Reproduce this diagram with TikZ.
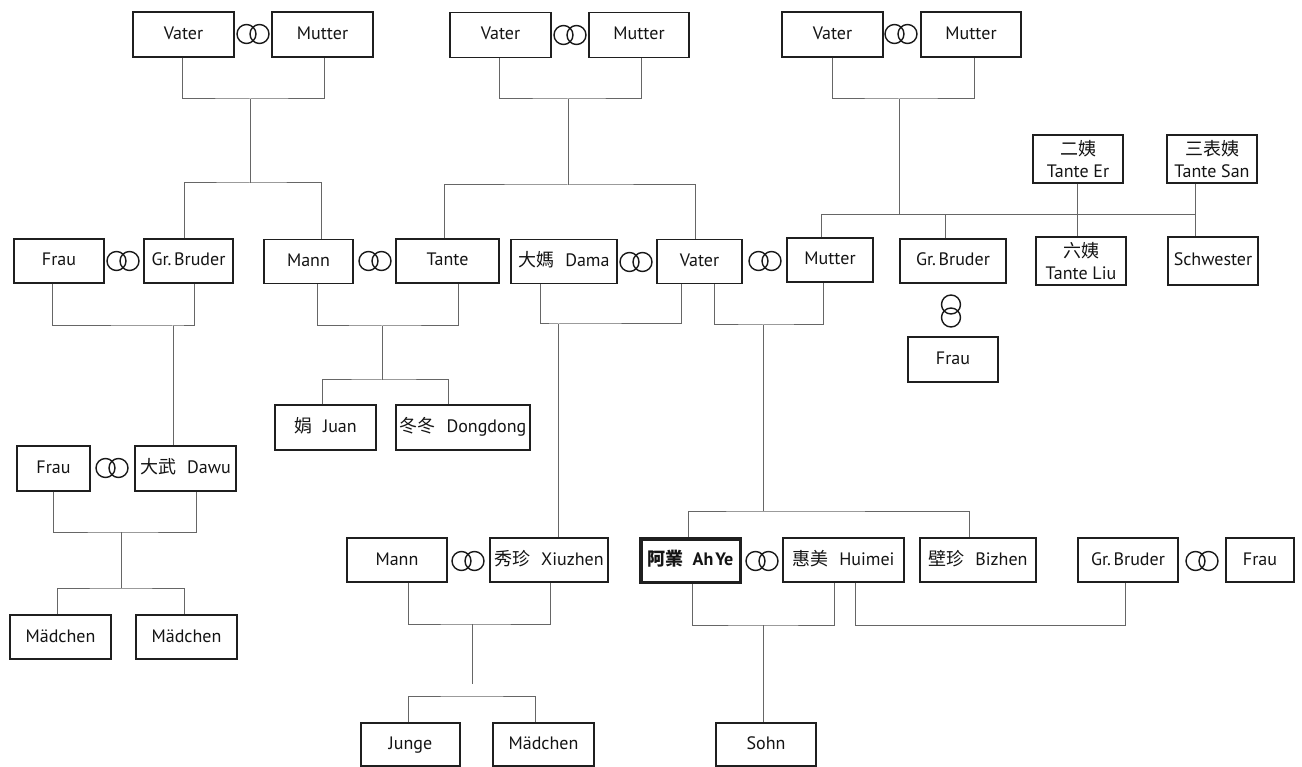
\documentclass[tikz,border=0pt]{standalone}
\usepackage{fontspec}
\setmainfont{PT Sans}
\newfontfamily\cjk{Noto Sans CJK TC}
\newcommand{\ringH}[2]{\draw[ring] (#1-6.5,#2) circle[radius=9.5pt] (#1+6.5,#2) circle[radius=9.5pt];}
\newcommand{\ringV}[2]{\draw[ring] (#1,#2-6.5) circle[radius=9.5pt] (#1,#2+6.5) circle[radius=9.5pt];}
\newcommand{\cn}[2]{{\cjk #1}\hspace{0.6em}#2}
\begin{document}
\begin{tikzpicture}[x=1pt,y=-1pt,
  basebox/.style={draw=black!88, line width=1.3pt, inner sep=0pt, minimum height=44pt,
    font=\fontsize{18}{22}\selectfont, text=black!92},
  pbox/.style={basebox, text height=14pt, text depth=4pt},
  pboxtwo/.style={basebox, align=center},
  conn/.style={draw=black!60, line width=1pt},
  ring/.style={draw=black!90, line width=1.4pt}]
\useasboundingbox[fill=white] (0,0) rectangle (1302,767);

% ---- row 1: grandparents
\node[pbox, minimum width=101pt, minimum height=45pt] (v1) at (183.5,34.5) {Vater};
\node[pbox, minimum width=101pt, minimum height=45pt] (m1) at (322.5,34.5) {Mutter};
\node[pbox, minimum width=101pt, minimum height=45pt] (v2) at (500.5,35) {Vater};
\node[pbox, minimum width=100pt, minimum height=45pt] (m2) at (639,35) {Mutter};
\node[pbox, minimum width=101pt, minimum height=45pt] (v3) at (832.5,34.5) {Vater};
\node[pbox, minimum width=100pt, minimum height=45pt] (m3) at (971,34.5) {Mutter};
\ringH{253}{34}
\ringH{570}{35}
\ringH{901}{34}

% ---- aunts above
\node[pboxtwo, minimum width=90pt, minimum height=48pt] (te) at (1078,159) {{\cjk 二姨}\\Tante Er};
\node[pboxtwo, minimum width=90pt, minimum height=48pt] (ts) at (1212,159) {{\cjk 三表姨}\\Tante San};

% ---- row 2
\node[pbox, minimum width=90pt] (fr1) at (59,261) {Frau};
\node[pbox, minimum width=89pt] (gb1) at (188.5,261) {Gr.\hspace{0.15em}Bruder};
\node[pbox, minimum width=89pt] (ma1) at (308.5,261.5) {Mann};
\node[pbox, minimum width=103pt] (ta) at (447.5,261) {Tante};
\node[pbox, minimum width=106pt] (da) at (564,261.5) {\cn{大媽}{Dama}};
\node[pbox, minimum width=85pt] (vr) at (699.5,261.5) {Vater};
\node[pbox, minimum width=86pt] (mr) at (830,260) {Mutter};
\node[pbox, minimum width=106pt] (gb2) at (953,261) {Gr.\hspace{0.15em}Bruder};
\node[pboxtwo, minimum width=90pt, minimum height=48pt] (tl) at (1081,261) {{\cjk 六姨}\\Tante Liu};
\node[pbox, minimum width=90pt, minimum height=48pt] (sw) at (1213,261) {Schwester};
\ringH{123}{261}
\ringH{375}{261}
\ringH{636}{262}
\ringH{765}{261}
\ringV{951}{311}
\node[pbox, minimum width=90pt, minimum height=45pt] (fr2) at (953,359.5) {Frau};

% ---- row 3
\node[pbox, minimum width=101pt, minimum height=45pt] (juan) at (325.5,427.5) {\cn{娟}{Juan}};
\node[pbox, minimum width=134pt, minimum height=45pt] (dong) at (463,427.5) {\cn{冬冬}{Dongdong}};
\node[pbox, minimum width=73pt, minimum height=45pt] (fr3) at (53.5,468.5) {Frau};
\node[pbox, minimum width=101pt, minimum height=45pt] (dawu) at (185.5,468.5) {\cn{大武}{Dawu}};
\ringH{112}{468}
\node[pbox, minimum width=101pt] (md1) at (60.5,637) {Mädchen};
\node[pbox, minimum width=101pt] (md2) at (186.5,637) {Mädchen};

% ---- row 4
\node[pbox, minimum width=100pt] (ma2) at (397,560) {Mann};
\node[pbox, minimum width=118pt] (xz) at (549,560) {\cn{秀珍}{Xiuzhen}};
\node[pbox, line width=3.5pt, minimum width=99.5pt, minimum height=43.5pt, font=\fontsize{18}{22}\selectfont\bfseries] (ay) at (690.5,560.5) {{\cjk 阿業}\hspace{0.5em}Ah\hspace{0.12em}Ye};
\node[pbox, minimum width=121pt] (hm) at (843.5,560) {\cn{惠美}{Huimei}};
\node[pbox, minimum width=116pt] (bz) at (978,560) {\cn{壁珍}{Bizhen}};
\node[pbox, minimum width=100pt] (gb3) at (1128,560) {Gr.\hspace{0.15em}Bruder};
\node[pbox, minimum width=68pt] (fr4) at (1260,560) {Frau};
\ringH{468}{561}
\ringH{762}{561}
\ringH{1202}{561}

% ---- row 5
\node[pbox, minimum width=99pt, minimum height=43pt] (junge) at (410.5,744.5) {Junge};
\node[pbox, minimum width=101pt, minimum height=43pt] (md3) at (543.5,744.5) {Mädchen};
\node[pbox, minimum width=100pt, minimum height=43pt] (sohn) at (766,744.5) {Sohn};

% ---- junctions
\coordinate (p1) at (250,99);  \coordinate (c1) at (250,183);
\coordinate (p2) at (568,99);  \coordinate (c2) at (568,185);
\coordinate (p3) at (899,99);  \coordinate (c3) at (899,215);
\coordinate (b3) at (1195,215);
\coordinate (p4) at (558,324);
\coordinate (p5) at (763,325); \coordinate (c5) at (763,511);
\coordinate (p6) at (763,625);
\coordinate (p7) at (173,326);
\coordinate (p8) at (382,326); \coordinate (c8) at (382,380);
\coordinate (p9) at (121,532); \coordinate (c9) at (121,588);
\coordinate (p10) at (472,624); \coordinate (e10) at (472,684); \coordinate (c10) at (472,696);

% ---- family 1
\draw[conn] ([xshift=-1.5pt]v1.south) |- (p1) -| ([xshift=1.5pt]m1.south);
\draw[conn] (p1) -- (c1);
\draw[conn] ([xshift=-4.5pt]gb1.north) |- (c1) -| ([xshift=12.5pt]ma1.north);
% ---- family 2
\draw[conn] ([xshift=-1.5pt]v2.south) |- (p2) -| ([xshift=2pt]m2.south);
\draw[conn] (p2) -- (c2);
\draw[conn] ([xshift=-3.5pt]ta.north) |- (c2) -| ([xshift=-4.5pt]vr.north);
% ---- family 3
\draw[conn] (v3.south) |- (p3) -| ([xshift=3pt]m3.south);
\draw[conn] (p3) -- (c3);
\draw[conn] ([xshift=-9pt]mr.north) |- (b3);
\draw[conn] ([xshift=-8pt]gb2.north) -- ([xshift=-8pt]gb2.north |- c3);
\draw[conn] ([xshift=-1pt]te.south) -- ([xshift=-1pt]te.south |- tl.north);
\draw[conn] ([xshift=-17pt]ts.south) -- ([xshift=-18pt]sw.north);
% ---- Frau + Gr. Bruder -> Dawu
\draw[conn] ([xshift=-7pt]fr1.south) |- (p7) -| ([xshift=5.5pt]gb1.south);
\draw[conn] (p7) -- (p7 |- dawu.north);
% ---- Mann + Tante -> Juan, Dongdong
\draw[conn] ([xshift=8.5pt]ma1.south) |- (p8) -| ([xshift=10.5pt]ta.south);
\draw[conn] (p8) -- (c8);
\draw[conn] ([xshift=-3.5pt]juan.north) |- (c8) -| ([xshift=-15pt]dong.north);
% ---- Dama + Vater -> Xiuzhen
\draw[conn] ([xshift=-24pt]da.south) |- (p4) -| ([xshift=-18.5pt]vr.south);
\draw[conn] (p4) -- ([xshift=9pt]xz.north);
% ---- Vater + Mutter -> Ah Ye, Bizhen
\draw[conn] ([xshift=14.5pt]vr.south) |- (p5) -| ([xshift=-7pt]mr.south);
\draw[conn] (p5) -- (c5);
\draw[conn] ([xshift=-2.5pt]ay.north) |- (c5) -| ([xshift=-9pt]bz.north);
% ---- Ah Ye + Huimei -> Sohn
\draw[conn] ([xshift=1.5pt]ay.south) |- (p6) -| ([xshift=-9.5pt]hm.south);
\draw[conn] (p6) -- (p6 |- sohn.north);
% ---- Huimei -- Gr. Bruder
\draw[conn] ([xshift=11.5pt]hm.south) -- ++(0,43) -| ([xshift=-3pt]gb3.south);
% ---- Frau + Dawu -> Maedchen
\draw[conn] (fr3.south) |- (p9) -| ([xshift=10.5pt]dawu.south);
\draw[conn] (p9) -- (c9);
\draw[conn] ([xshift=-3.5pt]md1.north) |- (c9) -| ([xshift=-2.5pt]md2.north);
% ---- Mann + Xiuzhen -> Junge, Maedchen
\draw[conn] ([xshift=11pt]ma2.south) |- (p10) -| ([xshift=1pt]xz.south);
\draw[conn] (p10) -- (e10);
\draw[conn] ([xshift=-2.5pt]junge.north) |- (c10) -| ([xshift=-8.5pt]md3.north);
\end{tikzpicture}
\end{document}
